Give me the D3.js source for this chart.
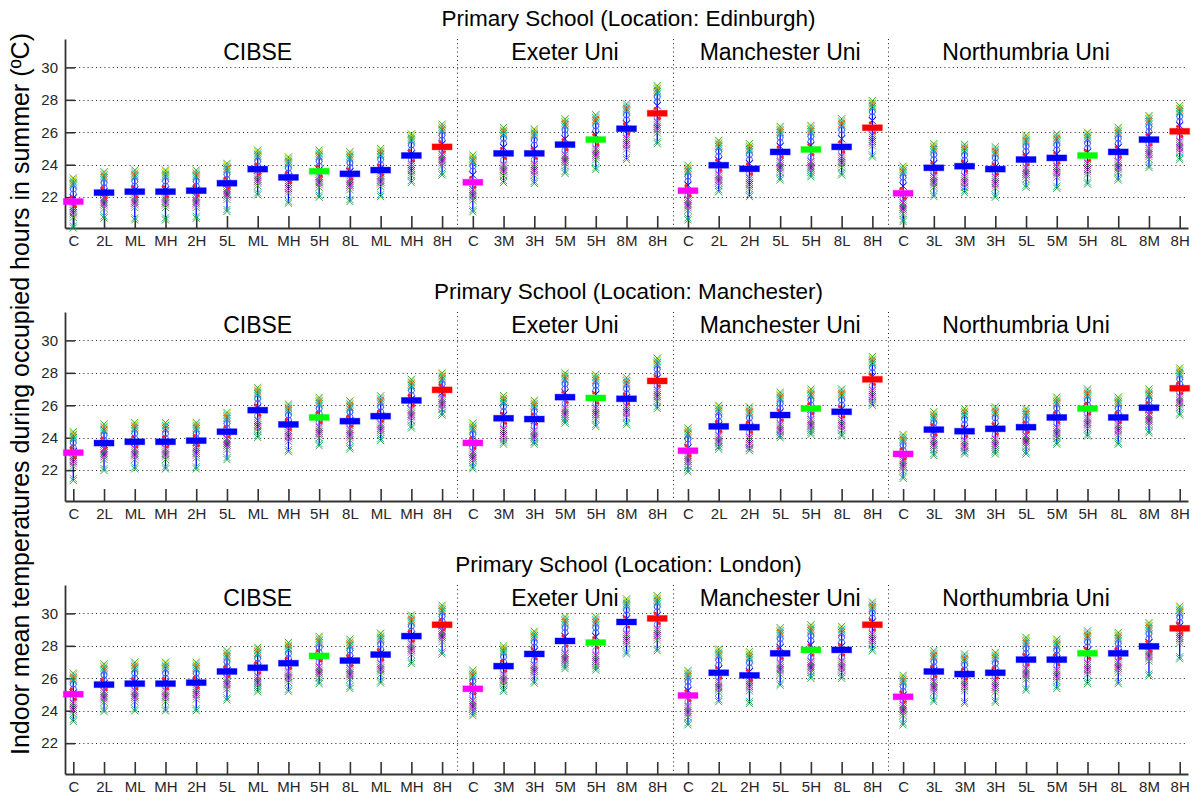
<!DOCTYPE html>
<html>
<head>
<meta charset="utf-8">
<script src="https://cdn.jsdelivr.net/npm/d3@7/dist/d3.min.js"></script>
<style>
  body { margin: 0; background: #fff; }
  svg { font-family: "Liberation Sans", Arial, Helvetica, sans-serif; }
</style>
</head>
<body>
<svg id="chart" width="1197" height="802"></svg>
<script>
// ── Data ────────────────────────────────────────────────────────────────────
const groups    = ['CIBSE', 'Exeter Uni', 'Manchester Uni', 'Northumbria Uni'];
const groupCats = [
  ['C', '2L', 'ML', 'MH', '2H', '5L', 'ML', 'MH', '5H', '8L', 'ML', 'MH', '8H'],
  ['C', '3M', '3H', '5M', '5H', '8M', '8H'],
  ['C', '2L', '2H', '5L', '5H', '8L', '8H'],
  ['C', '3L', '3M', '3H', '5L', '5M', '5H', '8L', '8M', '8H']
];
const locations = ['Edinburgh', 'Manchester', 'London'];
const yTicks    = [22, 24, 26, 28, 30];

// mean of each case (thick bar), range and the dense lower cluster
const edinburghMean = [21.73,22.28,22.34,22.34,22.40,22.86,23.73,23.22,23.60,23.44,23.67,24.57,25.10, 22.92,24.70,24.70,25.24,25.55,26.22,27.17, 22.40,23.97,23.75,24.79,24.94,25.10,26.28, 22.24,23.81,23.91,23.73,24.32,24.42,24.57,24.79,25.55,26.06];
const edinburghMax  = [23.18,23.57,23.67,23.67,23.67,24.08,24.90,24.48,24.90,24.80,25.00,25.90,26.50, 24.60,26.30,26.20,26.83,27.08,27.75,28.87, 23.97,25.50,25.30,26.36,26.42,26.83,27.95, 23.91,25.30,25.26,25.10,25.81,25.90,26.00,26.30,27.03,27.65];
const edinburghMin  = [20.10,20.72,20.60,20.60,20.70,21.12,22.14,21.63,22.00,21.73,22.04,22.90,23.37, 21.10,22.90,22.85,23.47,23.70,24.32,25.30, 20.60,22.34,22.04,23.06,23.26,23.37,24.48, 20.50,22.04,22.28,22.00,22.61,22.55,22.81,23.06,23.83,24.32];
const edinburghLow  = [21.10,21.65,21.70,21.70,21.70,22.20,23.05,22.60,22.95,22.80,23.00,23.70,24.30, 22.15,23.67,23.70,24.28,24.65,25.30,26.30, 21.53,23.06,22.85,23.87,23.87,24.18,25.50, 21.33,22.95,22.95,22.90,23.47,23.57,23.77,23.87,24.69,25.10];

const manchesterMean = [23.08,23.67,23.75,23.75,23.82,24.37,25.70,24.82,25.25,25.02,25.33,26.30,26.95, 23.68,25.20,25.15,26.50,26.45,26.40,27.50, 23.20,24.70,24.65,25.40,25.80,25.60,27.60, 23.00,24.50,24.40,24.55,24.65,25.25,25.80,25.25,25.85,27.05];
const manchesterMax  = [24.37,24.84,24.94,24.94,24.94,25.56,27.09,26.07,26.48,26.27,26.58,27.60,28.00, 24.90,26.60,26.30,28.00,27.90,27.70,28.90, 24.60,26.00,25.90,26.80,27.00,27.00,29.00, 24.20,25.60,25.80,25.90,25.80,26.50,27.00,26.50,27.00,28.30];
const manchesterMin  = [21.36,21.98,22.08,22.08,22.08,22.65,24.02,23.14,23.51,23.31,23.82,24.60,25.40, 22.10,23.60,23.60,24.90,24.70,24.80,25.80, 21.90,23.30,23.20,24.00,24.20,24.10,26.00, 21.50,22.90,23.00,23.00,23.00,23.60,24.10,23.60,24.30,25.40];
const manchesterLow  = [22.59,23.00,23.00,23.00,23.10,23.61,24.74,24.12,24.33,24.20,24.53,25.40,26.10, 22.80,24.20,24.10,25.50,25.50,25.60,26.60, 22.60,23.80,23.70,24.50,24.80,24.80,26.60, 22.30,23.60,23.50,23.60,23.80,24.30,24.90,24.50,25.10,26.20];

const londonMean = [25.02,25.61,25.67,25.67,25.73,26.42,26.65,26.93,27.38,27.09,27.46,28.60,29.30, 25.35,26.75,27.50,28.30,28.20,29.47,29.69, 24.94,26.34,26.18,27.54,27.75,27.75,29.30, 24.86,26.42,26.26,26.34,27.15,27.15,27.54,27.54,27.97,29.08];
const londonMax  = [26.32,26.89,26.99,26.99,26.99,27.70,27.91,28.21,28.58,28.41,28.78,29.90,30.50, 26.50,28.00,28.90,29.80,29.80,30.89,31.09, 26.48,27.80,27.64,29.12,29.30,29.20,30.70, 26.18,27.70,27.50,27.60,28.52,28.41,28.92,28.82,29.43,30.44];
const londonMin  = [23.34,23.95,23.99,23.99,24.00,24.66,25.17,25.20,25.67,25.37,25.71,26.90,27.50, 23.70,25.20,25.70,26.60,26.50,27.50,27.70, 23.13,24.56,24.45,25.57,26.00,26.00,27.70, 23.13,24.56,24.45,24.52,25.26,25.37,25.67,25.67,26.14,27.20];
const londonLow  = [24.15,24.86,24.90,24.90,25.06,25.67,25.78,26.08,26.38,26.28,26.58,27.80,28.60, 24.30,25.90,26.50,27.20,27.10,28.40,28.70, 23.95,25.47,25.57,26.59,26.70,26.70,28.40, 24.05,25.47,25.57,25.50,26.28,26.18,26.59,26.69,27.40,28.52];

const panels = [
  { loc: locations[0], mean: edinburghMean,  max: edinburghMax,  min: edinburghMin,  low: edinburghLow },
  { loc: locations[1], mean: manchesterMean, max: manchesterMax, min: manchesterMin, low: manchesterLow },
  { loc: locations[2], mean: londonMean,     max: londonMax,     min: londonMin,     low: londonLow }
];

// ── Layout ──────────────────────────────────────────────────────────────────
const cats   = groupCats.flat();
const starts = [];
groupCats.reduce((s, g) => { starts.push(s); return s + g.length; }, 0);

const axL = 65, axR = 1188;
const top0 = 39, step = 273, ph = 189;
const axisCol = '#333';

const x = d3.scaleLinear().domain([-0.27, cats.length - 0.73]).range([axL, axR]);
const y = d3.scaleLinear().domain([20.1, 31.75]).range([ph, 0]);

const barColor = c => c === 'C' ? '#ff00ff' : c === '5H' ? '#00ff00' : c === '8H' ? '#ff0000' : '#0000ff';

// marker stacks (pixel offsets around a value, colours of the overlapping glyphs)
const topStack = [['#2a9d2a', 0], ['#d6d600', 1.5], ['#00c4c4', 3], ['#ff5a00', 4.5], ['#2a9d2a', 6], ['#00c4c4', 8]];
const lowStack = [['#e000e0', -5], ['#3a8a3a', -3], ['#404070', -1], ['#8000a0', 1], ['#d040d0', 3], ['#30a030', 5.5]];
const xGlyph = 'M-3.6,-3.6L3.6,3.6M-3.6,3.6L3.6,-3.6';

const svg = d3.select('#chart');

// y label
svg.append('text')
  .attr('transform', `translate(29,394) rotate(-90)`)
  .attr('text-anchor', 'middle')
  .attr('font-size', 25)
  .attr('fill', '#000')
  .text('Indoor mean temperatures during occupied hours in summer (\u00baC)');

panels.forEach((p, pi) => {
  const g = svg.append('g').attr('transform', `translate(0,${top0 + pi * step})`);

  // ── grid ──
  g.append('g').selectAll('line').data(yTicks).join('line')
    .attr('x1', axL + 10).attr('x2', axR)
    .attr('y1', d => Math.round(y(d)) + 0.5).attr('y2', d => Math.round(y(d)) + 0.5)
    .attr('stroke', '#222').attr('stroke-width', 1).attr('stroke-dasharray', '1,3.2');

  // group dividers
  g.append('g').selectAll('line').data(starts.slice(1)).join('line')
    .attr('x1', d => Math.round(x(d - 0.5)) + 0.5).attr('x2', d => Math.round(x(d - 0.5)) + 0.5)
    .attr('y1', 0).attr('y2', ph)
    .attr('stroke', '#222').attr('stroke-width', 1).attr('stroke-dasharray', '1,3.2');

  // ── axes ──
  const ya = g.append('g').attr('transform', `translate(${axL},0)`)
    .call(d3.axisLeft(y).tickValues(yTicks).tickSize(-10).tickSizeOuter(0).tickPadding(7).tickFormat(d3.format('d')));
  const xa = g.append('g').attr('transform', `translate(0,${ph})`)
    .call(d3.axisBottom(x).tickValues(d3.range(cats.length)).tickSize(-12).tickSizeOuter(0).tickPadding(7).tickFormat(i => cats[i]));
  [ya, xa].forEach(a => {
    a.select('.domain').attr('stroke', axisCol).attr('stroke-width', 1.8);
    a.selectAll('.tick line').attr('stroke', axisCol).attr('stroke-width', 1.6);
    a.selectAll('.tick text').attr('fill', '#262626').attr('font-size', 15)
      .attr('font-family', '"Liberation Sans", Arial, sans-serif');
  });

  // ── titles ──
  g.append('text')
    .attr('x', (axL + axR) / 2 + 2).attr('y', -13)
    .attr('text-anchor', 'middle').attr('font-size', 22.5)
    .text(`Primary School (Location: ${p.loc})`);

  g.append('g').selectAll('text').data(groups).join('text')
    .attr('x', (d, i) => x(Math.floor(starts[i] + (groupCats[i].length - 1) / 2)))
    .attr('y', 21)
    .attr('text-anchor', 'middle').attr('font-size', 23)
    .text(d => d);

  // ── case clusters ──
  const idx = d3.range(cats.length);
  const cl = g.append('g').selectAll('g').data(idx).join('g')
    .attr('transform', i => `translate(${x(i)},0)`);

  // range line
  cl.append('line')
    .attr('y1', i => y(p.min[i])).attr('y2', i => y(p.max[i]))
    .attr('stroke', '#0000ff').attr('stroke-width', 1.3);

  // high-end markers
  topStack.forEach(([c, dy]) => {
    cl.append('path').attr('d', xGlyph)
      .attr('transform', i => `translate(0,${y(p.max[i]) + dy})`)
      .attr('fill', 'none').attr('stroke', c).attr('stroke-width', 0.9);
  });
  [11, 16].forEach(dy => {
    cl.append('circle').attr('r', 3)
      .attr('cy', i => y(p.max[i]) + dy)
      .attr('fill', 'none').attr('stroke', '#4060ff').attr('stroke-width', 1);
  });
  cl.append('path').attr('d', xGlyph)
    .attr('transform', i => `translate(0,${y(p.max[i]) + 20})`)
    .attr('fill', 'none').attr('stroke', '#0000ff').attr('stroke-width', 0.9);

  // low cluster
  cl.append('circle').attr('r', 3)
    .attr('cy', i => y(p.low[i]) - 10)
    .attr('fill', 'none').attr('stroke', '#7070ff').attr('stroke-width', 1);
  lowStack.forEach(([c, dy]) => {
    cl.append('path').attr('d', xGlyph)
      .attr('transform', i => `translate(0,${y(p.low[i]) + dy})`)
      .attr('fill', 'none').attr('stroke', c).attr('stroke-width', 0.9);
  });

  // minimum markers
  [['#00b0b0', -2], ['#2a9d2a', 0]].forEach(([c, dy]) => {
    cl.append('path').attr('d', xGlyph)
      .attr('transform', i => `translate(0,${y(p.min[i]) + dy})`)
      .attr('fill', 'none').attr('stroke', c).attr('stroke-width', 0.9);
  });

  // red points near the mean
  [-5, 5].forEach(dy => {
    cl.append('circle').attr('r', 1.6)
      .attr('cx', dy < 0 ? -2 : 2)
      .attr('cy', i => y(p.mean[i]) + dy)
      .attr('fill', '#ff2020');
  });

  // mean bar
  cl.append('rect')
    .attr('x', -10).attr('width', 20)
    .attr('y', i => y(p.mean[i]) - 3).attr('height', 6)
    .attr('fill', i => barColor(cats[i]))
    .attr('stroke', i => barColor(cats[i])).attr('stroke-opacity', 0.35).attr('stroke-width', 1);
});
</script>
</body>
</html>
